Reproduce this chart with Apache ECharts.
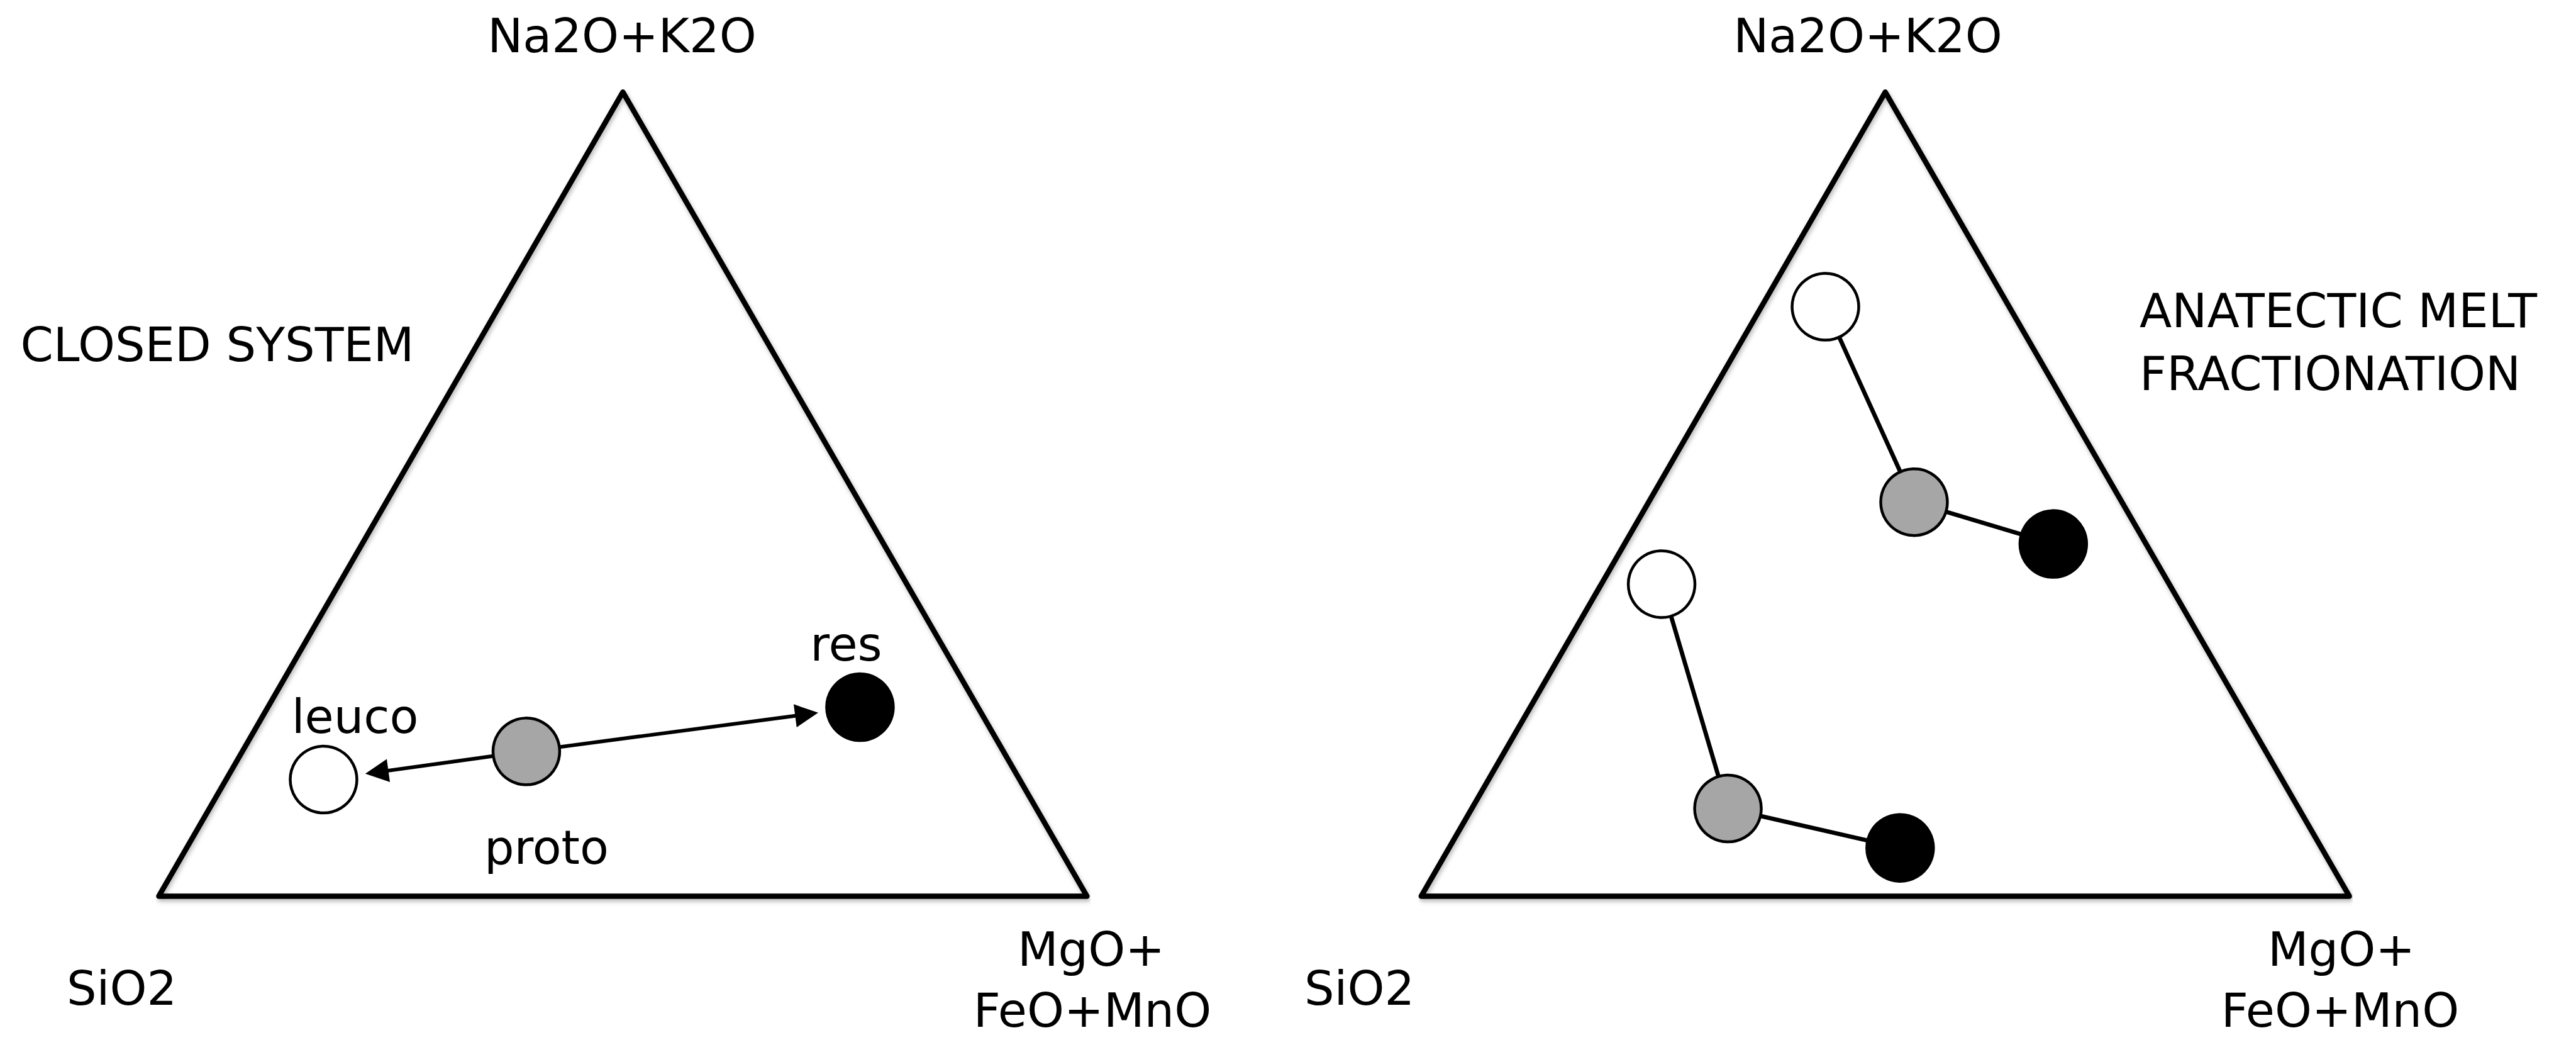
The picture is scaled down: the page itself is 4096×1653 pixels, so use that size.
<!DOCTYPE html>
<html>
<head>
<meta charset="utf-8">
<script src="https://cdn.jsdelivr.net/npm/echarts@6/dist/echarts.min.js"></script>
<style>
html, body { margin: 0; padding: 0; background: #ffffff; }
#chart { width: 4096px; height: 1653px; }
</style>
</head>
<body>
<div id="chart"></div>
<script>
// ---------------- DATA (ternary compositions, %) ----------------
const vertexLabels = ['SiO2', 'Na2O+K2O', 'MgO+\nFeO+MnO'];
const panelTitles = ['CLOSED SYSTEM', 'ANATECTIC MELT\nFRACTIONATION'];

// Left panel: closed system
const closedNames = ['leuco', 'proto', 'res'];
const closedKinds = ['melt', 'proto', 'res'];
const closedSiO2 = [75.0, 51.4, 12.7];
const closedAlk  = [14.5, 18.0, 23.5];
const closedFM   = [10.5, 30.6, 63.8];

// Right panel: anatectic melt fractionation (two trends)
const fracKinds = ['melt', 'proto', 'res', 'melt', 'proto', 'res'];
const fracTrend = [1, 1, 1, 2, 2, 2];
const fracSiO2  = [19.8, 22.4, 10.0, 54.7, 61.5, 45.4];
const fracAlk   = [73.3, 49.0, 43.8, 38.8, 10.9,  6.0];
const fracFM    = [ 6.9, 28.6, 46.2,  6.5, 27.6, 48.6];

// ---------------- LAYOUT / STYLE ----------------
const S = 0.856;
const H = Math.sqrt(3) / 2;
const GRID_W = 1724 * S;
const GRID_H = GRID_W * H;
const BASE_Y = 1664 * S;
const GRID_LEFTS = [295 * S, 2640 * S];
const FONT = '"DejaVu Sans", "Liberation Sans", sans-serif';
const FS = 75;
const MID = 0.346 * FS; // baseline -> middle offset
const kindColor = { melt: '#ffffff', proto: '#a6a6a6', res: '#000000' };
const SYMBOL = 106;
const MARKER_BORDER = 4.5;
const FRAME_W = 8.5;
const LINK_W = 6.8;
const ARROW_W = 5.9;
const ARROW_SIZE = 37;
const ARROW_TIP_FROM_CENTER = 67; // px, distance from target centre to arrow tip
const closedLabelOffsets = { leuco: [50, -100], proto: [32, 153], res: [-22, -100] };

function tern(a, b, c) {
  const t = a + b + c;
  return [(c + b / 2) / t, (b * H) / t];
}

const frameData = [tern(100, 0, 0), tern(0, 0, 100), tern(0, 100, 0), tern(100, 0, 0)];

const closedPts = closedNames.map((n, i) => tern(closedSiO2[i], closedAlk[i], closedFM[i]));
const fracPts = fracKinds.map((k, i) => tern(fracSiO2[i], fracAlk[i], fracFM[i]));

// arrows from proto toward leuco and res
const protoIdx = closedKinds.indexOf('proto');
const arrowData = closedKinds.map((k, i) => i).filter(i => i !== protoIdx).map(i => {
  const p = closedPts[protoIdx], q = closedPts[i];
  const dx = q[0] - p[0], dy = q[1] - p[1];
  const len = Math.sqrt(dx * dx + dy * dy);
  const back = (ARROW_TIP_FROM_CENTER + ARROW_SIZE / 2) / GRID_W;
  return { coords: [p, [q[0] - dx / len * back, q[1] - dy / len * back]] };
});

// connectors within each fractionation trend: melt-proto, proto-res
const linkData = [];
[1, 2].forEach(tr => {
  const idx = fracTrend.map((t, i) => i).filter(i => fracTrend[i] === tr);
  const m = idx.find(i => fracKinds[i] === 'melt');
  const p = idx.find(i => fracKinds[i] === 'proto');
  const r = idx.find(i => fracKinds[i] === 'res');
  linkData.push({ coords: [fracPts[m], fracPts[p]] });
  linkData.push({ coords: [fracPts[p], fracPts[r]] });
});

function frameSeries(g) {
  return {
    type: 'line', xAxisIndex: g, yAxisIndex: g, data: frameData,
    symbol: 'none', clip: false, silent: true, z: 1,
    lineStyle: { color: '#000', width: FRAME_W, join: 'round', cap: 'round',
      shadowColor: 'rgba(0,0,0,0.28)', shadowBlur: 7, shadowOffsetX: 2, shadowOffsetY: 4 }
  };
}

const grids = GRID_LEFTS.map(l => ({ left: l, top: BASE_Y - GRID_H, width: GRID_W, height: GRID_H }));
const xAxes = grids.map((g, i) => ({ type: 'value', gridIndex: i, min: 0, max: 1, show: false }));
const yAxes = grids.map((g, i) => ({ type: 'value', gridIndex: i, min: 0, max: H, show: false }));

const txt = (text, x, baseline, align) => ({
  type: 'text', silent: true,
  style: { text: text, x: x, y: baseline - MID, fill: '#000', font: FS + 'px ' + FONT,
    textAlign: align, textVerticalAlign: 'middle' }
});

const fmLines = vertexLabels[2].split('\n');
const rightTitle = panelTitles[1].split('\n');
const graphics = [
  txt(vertexLabels[1], 989, 83, 'center'),
  txt(vertexLabels[1], 2970, 83, 'center'),
  txt(panelTitles[0], 32.5, 574, 'left'),
  txt(rightTitle[0], 3402, 520, 'left'),
  txt(rightTitle[1], 3402, 620, 'left'),
  txt(vertexLabels[0], 106, 1597, 'left'),
  txt(vertexLabels[0], 2074, 1597, 'left'),
  txt(fmLines[0], 1735, 1535, 'center'),
  txt(fmLines[1], 1737, 1632, 'center'),
  txt(fmLines[0], 3723, 1535, 'center'),
  txt(fmLines[1], 3721, 1632, 'center')
];

const option = {
  backgroundColor: '#ffffff',
  animation: false,
  grid: grids,
  xAxis: xAxes,
  yAxis: yAxes,
  graphic: graphics,
  series: [
    frameSeries(0),
    frameSeries(1),
    {
      type: 'lines', coordinateSystem: 'cartesian2d', xAxisIndex: 0, yAxisIndex: 0,
      data: arrowData, symbol: ['none', 'triangle'], symbolSize: ARROW_SIZE,
      lineStyle: { color: '#000', width: ARROW_W, opacity: 1, curveness: 0 },
      silent: true, z: 2
    },
    {
      type: 'lines', coordinateSystem: 'cartesian2d', xAxisIndex: 1, yAxisIndex: 1,
      data: linkData, symbol: ['none', 'none'],
      lineStyle: { color: '#000', width: LINK_W, opacity: 1, curveness: 0 },
      silent: true, z: 2
    },
    {
      type: 'scatter', xAxisIndex: 0, yAxisIndex: 0, clip: false, z: 3,
      symbol: 'circle', symbolSize: SYMBOL,
      data: closedPts.map((p, i) => ({
        name: closedNames[i], value: p,
        itemStyle: { color: kindColor[closedKinds[i]], borderColor: '#000', borderWidth: MARKER_BORDER, opacity: 1 },
        label: { show: true, formatter: '{b}', position: 'inside', offset: closedLabelOffsets[closedNames[i]],
          color: '#000', fontSize: FS, fontFamily: FONT }
      }))
    },
    {
      type: 'scatter', xAxisIndex: 1, yAxisIndex: 1, clip: false, z: 3,
      symbol: 'circle', symbolSize: SYMBOL,
      data: fracPts.map((p, i) => ({
        value: p,
        itemStyle: { color: kindColor[fracKinds[i]], borderColor: '#000', borderWidth: MARKER_BORDER, opacity: 1 }
      }))
    }
  ]
};

const chart = echarts.init(document.getElementById('chart'), null, { renderer: 'svg' });
chart.setOption(option);
</script>
</body>
</html>
